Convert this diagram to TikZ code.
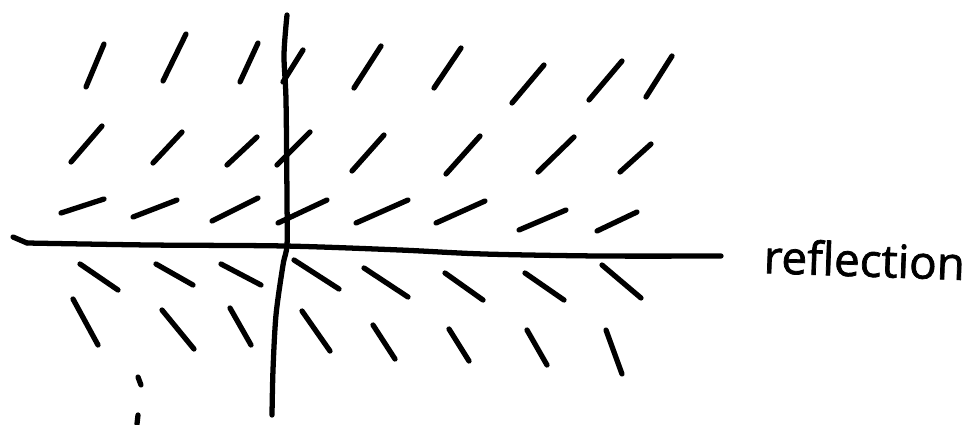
\documentclass[tikz,border=0pt]{standalone}
\usepackage{fontspec}
\newfontfamily\handfont[BoldFont={Open Sans}, BoldFeatures={FakeBold=1.6}]{Open Sans}
\usetikzlibrary{positioning}
\tikzset{
  pen/.style={line width=3pt, line cap=round, line join=round},
  handlabel/.style={font=\handfont\bfseries\fontsize{26}{26}\selectfont, inner sep=0pt}
}

\begin{document}
\begin{tikzpicture}[x=0.02cm, y=-0.02cm]
    \useasboundingbox (0,0) rectangle (968,424);
    % eixos
    \draw[pen] plot[smooth] coordinates {(287,15) (284,55) (286,100) (287,200) (287,245) (283,265) (276,315) (273,370) (272,415)};
    \draw[pen] (13,237) -- (27,243);
    \draw[pen] plot[smooth] coordinates {(27,243) (150,245) (285,246) (400,250) (484,254) (600,256) (721,256)};
    % segmentos acima do eixo
    \foreach \xa/\ya/\xb/\yb in {
      86/87/104/44, 163/81/186/34, 240/82/258/43, 283/82/303/50, 354/88/381/46,
      434/88/461/48, 512/103/544/65, 589/100/622/61, 646/97/672/56,
      71/162/102/126, 153/163/182/132, 227/165/257/137, 277/165/310/132,
      352/171/384/135, 446/174/480/136, 538/172/574/137, 620/172/651/144,
      61/213/104/199, 133/217/177/200, 212/221/258/198, 278/223/327/200,
      356/223/408/200, 436/223/485/201, 519/230/566/210, 597/231/637/212} {
      \draw[pen] (\xa,\ya) -- (\xb,\yb);
    }
    % segmentos abaixo do eixo
    \foreach \xa/\ya/\xb/\yb in {
      80/264/118/290, 156/264/193/285, 221/264/261/285, 294/260/339/289,
      364/268/408/297, 445/273/483/300, 525/273/564/300, 602/265/641/298,
      73/299/98/345, 162/310/194/349, 230/308/251/345, 302/311/330/351,
      373/325/395/359, 449/329/469/361, 527/330/547/365, 606/330/622/374} {
      \draw[pen] (\xa,\ya) -- (\xb,\yb);
    }
    % pontinhos
    \draw[pen] (138,377) -- (141,385);
    \draw[pen] (138,415) -- (137,424);
    % rotulo
    \node[handlabel, anchor=base west, rotate=-2] (refl) at (763,273) {reflection};
\end{tikzpicture}
\end{document}
